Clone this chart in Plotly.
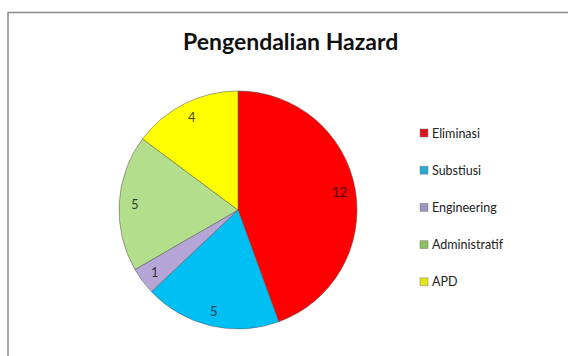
import math
import plotly.graph_objects as go

labels = ["Eliminasi", "Substiusi", "Engineering", "Administratif", "APD"]
values = [12, 5, 1, 5, 4]
colors = ["#FF0000", "#00BFF3", "#B6A6D8", "#B3DE8C", "#FFFF00"]
legend_colors = ["#D9141E", "#2BA9D6", "#9B93BE", "#8DC063", "#E4E41A"]
title_text = "Pengendalian Hazard"

W, H = 568, 356
cx, cy, R = 238, 210, 119  # pie centre and radius in pixels
FONT = "Lato, Noto Sans, sans-serif"

fig = go.Figure()
fig.add_trace(go.Pie(
    labels=labels,
    values=values,
    sort=False,
    direction="clockwise",
    rotation=0,
    marker=dict(colors=colors, line=dict(color="rgba(90,90,90,0.55)", width=1)),
    textinfo="none",
    hoverinfo="label+value",
    showlegend=False,
    domain=dict(x=[(cx - R) / W, (cx + R) / W], y=[(H - cy - R) / H, (H - cy + R) / H]),
))

# data labels near the outer edge of each slice
total = sum(values)
acc = 0
annotations = []
for v in values:
    mid = (acc + v / 2) / total * 2 * math.pi
    acc += v
    r = 0.87 * R
    px = cx + r * math.sin(mid)
    py = cy - r * math.cos(mid)
    annotations.append(dict(
        x=px / W, y=1 - py / H, xref="paper", yref="paper",
        xanchor="center", yanchor="middle",
        text=str(v), showarrow=False,
        font=dict(family=FONT, size=13, color="rgba(0,0,0,0.75)"),
    ))

annotations.append(dict(
    x=290 / W, y=1 - 41 / H, xref="paper", yref="paper",
    xanchor="center", yanchor="middle",
    text="<b>" + title_text + "</b>", showarrow=False,
    font=dict(family=FONT, size=23, color="#111111"),
))

# legend (squares + labels), laid out by index
shapes = [dict(
    type="rect", xref="paper", yref="paper",
    x0=8 / W, x1=1.05, y0=-0.05, y1=1 - 12.5 / H,
    line=dict(color="#8a8a8a", width=1.5),
    fillcolor="rgba(0,0,0,0)", layer="below",
)]
leg_x, leg_y0, leg_dy, sq = 420, 133, 37.2, 8
for i, (lab, col) in enumerate(zip(labels, legend_colors)):
    yc = leg_y0 + i * leg_dy
    shapes.append(dict(
        type="rect", xref="paper", yref="paper",
        x0=leg_x / W, x1=(leg_x + sq) / W,
        y0=1 - (yc + sq / 2) / H, y1=1 - (yc - sq / 2) / H,
        line=dict(color="rgba(120,120,120,0.6)", width=0.8),
        fillcolor=col,
    ))
    annotations.append(dict(
        x=(leg_x + sq + 2) / W, y=1 - yc / H, xref="paper", yref="paper",
        xanchor="left", yanchor="middle",
        text=lab, showarrow=False,
        font=dict(family=FONT, size=12.5, color="#222222"),
    ))

fig.update_layout(
    width=W, height=H,
    margin=dict(l=0, r=0, t=0, b=0),
    paper_bgcolor="white",
    plot_bgcolor="white",
    annotations=annotations,
    shapes=shapes,
    showlegend=False,
)

fig.write_html("out.html")
